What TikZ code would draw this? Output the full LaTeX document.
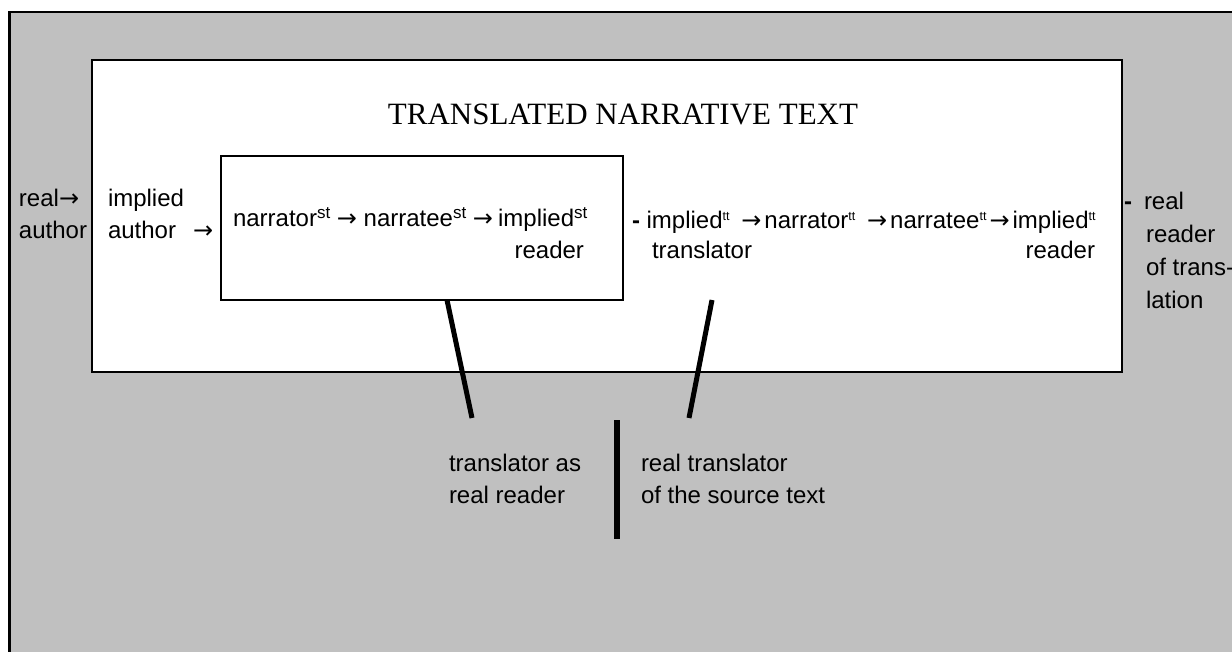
\documentclass[tikz,border=0pt]{standalone}
\usepackage{fontspec}
\setmainfont{Liberation Sans}
\newfontfamily\titleserif{Liberation Serif}
\newfontfamily\arrowfont{DejaVu Sans}
\definecolor{bggray}{RGB}{192,192,192}
\newcommand\supST[1]{\raisebox{8.5pt}{\fontsize{17}{17}\selectfont #1}}
\newcommand\supTT[1]{\raisebox{8.5pt}{\fontsize{12.5}{12.5}\selectfont #1}}
\newcommand\bdash{{\bfseries -}}
\newcommand\rarr{{\arrowfont →}}
\begin{document}
\begin{tikzpicture}[x=1pt,y=-1pt,
  every node/.style={inner sep=0pt, outer sep=0pt},
  txt/.style={font=\fontsize{24}{32}\selectfont, anchor=base west},
  txtr/.style={font=\fontsize{24}{32}\selectfont, anchor=base east},
  frame/.style={draw=black, line width=2pt, fill=white, rectangle},
  stroke/.style={line width=5pt, black}]
\useasboundingbox (0,0) rectangle (1232,652);
% outer grey panel (runs off the right and bottom edges)
\draw[fill=bggray, line width=2.5pt] (9.25,12.25) rectangle (1260,680);
% translated narrative text box
\node[frame, minimum width=1030pt, minimum height=312pt] (textbox) at (607,216) {};
\node[font=\titleserif\fontsize{31}{31}\selectfont, anchor=base] (title) at (623,125) {TRANSLATED NARRATIVE TEXT};
% source-text box
\node[frame, minimum width=402pt, minimum height=144pt] (srcbox) at (422,228) {};
% left column
\node[txt] (real1) at (19,207) {real\rarr};
\node[txt] (real2) at (19,239) {author};
\node[txt] (impl1) at (108,207) {implied};
\node[txt] (impl2) at (108,239) {author\hspace{17pt}\rarr};
% source-text chain
\node[txt] (stA) at (233,227) {narrator\supST{st} \rarr{} narratee\supST{st} \rarr\hspace{5pt}implied\supST{st}};
\node[txtr] (stB) at (584,259) {reader};
% target-text chain
\node[txt] (ttA) at (632,229) {\bdash\ implied\supTT{tt}\hspace{5pt} \rarr\hspace{3pt}narrator\supTT{tt}\hspace{5pt} \rarr\hspace{3pt}narratee\supTT{tt}\hspace{3pt}\rarr\hspace{3pt}implied\supTT{tt}};
\node[txt] (ttB) at (652,259) {translator};
\node[txtr] (ttC) at (1095,259) {reader};
% right column
\node[txt] (rr1) at (1124,210) {\bdash\hspace{12pt}real};
\node[txt] (rr2) at (1146,243) {reader};
\node[txt] (rr3) at (1146,276) {of trans-};
\node[txt] (rr4) at (1146,309) {lation};
% bottom labels
\node[txt] (tr1) at (449,471) {translator as};
\node[txt] (tr2) at (449,503) {real reader};
\node[txt] (rt1) at (641,471) {real translator};
\node[txt] (rt2) at (641,503) {of the source text};
% connectors
\coordinate (l1a) at (447,300);
\coordinate (l1b) at (472,418);
\coordinate (l2a) at (712,300);
\coordinate (l2b) at (689,418);
\coordinate (dva) at (617,420);
\coordinate (dvb) at (617,539);
\draw[stroke] (l1a) -- (l1b);
\draw[stroke] (l2a) -- (l2b);
\draw[line width=6pt] (dva) -- (dvb);
\end{tikzpicture}
\end{document}
